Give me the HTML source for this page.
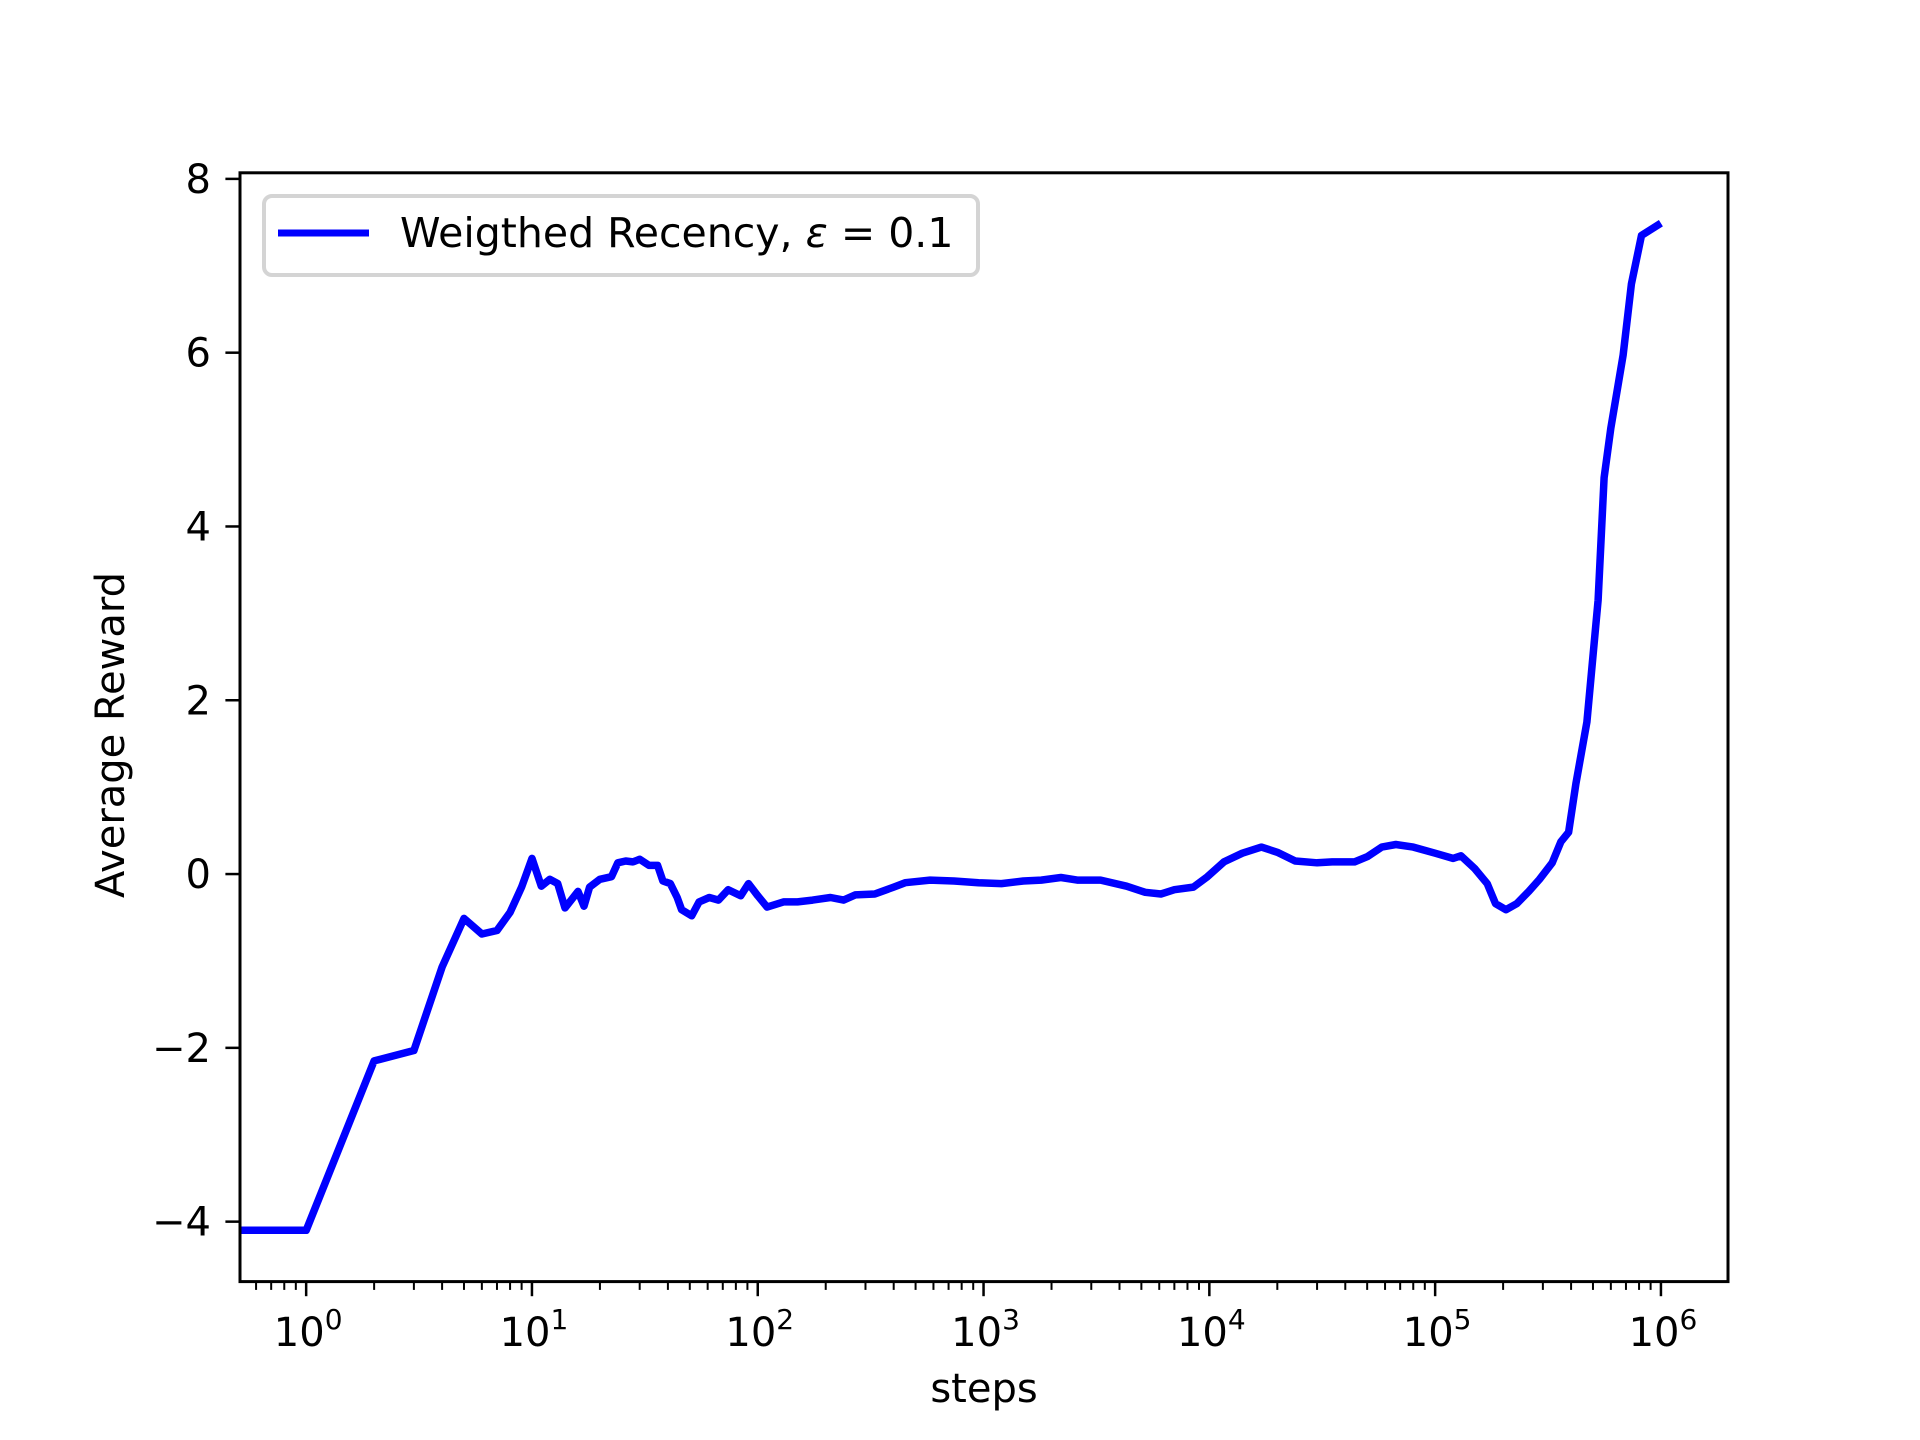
<!DOCTYPE html>
<html><head><meta charset="utf-8"><style>
html,body{margin:0;padding:0;background:#fff;}
svg{display:block;font-family:"DejaVu Sans","Liberation Sans",sans-serif;}
</style></head><body>
<svg id="chart" width="1920" height="1440" viewBox="0 0 1920 1440" xmlns="http://www.w3.org/2000/svg">
<rect width="1920" height="1440" fill="#fff"/>
<defs><clipPath id="clip"><rect x="240" y="172.8" width="1488" height="1108.8"/></clipPath></defs>
<g id="plot"></g>
<rect x="240" y="172.8" width="1488" height="1108.8" fill="none" stroke="#000" stroke-width="3"/>
<g id="legend">
<rect x="264" y="196" width="714" height="79" rx="8" fill="#fff" fill-opacity="0.8" stroke="#d4d4d4" stroke-width="4"/>
<line x1="278" y1="233" x2="369" y2="233" stroke="#0000ff" stroke-width="7"/>
<text x="400" y="247" font-size="41">Weigthed Recency, <tspan font-style="italic">ε</tspan> = 0.1</text>
</g>
<text x="984" y="1402" font-size="40" text-anchor="middle">steps</text>
<text transform="translate(124,735) rotate(-90)" font-size="40" text-anchor="middle">Average Reward</text>
</svg>
<script>
const steps=[0.51,1,2,3,4,5,6,7,8,9,10,11,12,13,14,16,17,18,20,22.5,24,26,28,30,33,36,38,41,44,46,51,55,61,67,74,84,91,100,110,130,150,175,210,240,270,330,400,450,580,740,950,1200,1500,1800,2200,2600,3300,4300,5200,6100,7000,8500,9800,11600,14000,17000,20000,24000,30000,35000,44000,50000,58000,67000,80000,100000,120000,130000,150000,170000,185000,206000,230000,260000,290000,330000,360000,390000,420000,470000,527000,560000,600000,680000,740000,820000,1000000];
const rewards=[-4.1,-4.1,-2.15,-2.03,-1.07,-0.51,-0.69,-0.65,-0.44,-0.15,0.18,-0.14,-0.06,-0.11,-0.39,-0.2,-0.37,-0.15,-0.06,-0.03,0.13,0.15,0.14,0.17,0.1,0.1,-0.08,-0.11,-0.27,-0.41,-0.48,-0.32,-0.27,-0.3,-0.18,-0.25,-0.11,-0.25,-0.38,-0.32,-0.32,-0.3,-0.27,-0.3,-0.24,-0.23,-0.15,-0.1,-0.07,-0.08,-0.1,-0.11,-0.08,-0.07,-0.04,-0.07,-0.07,-0.14,-0.21,-0.23,-0.18,-0.15,-0.03,0.14,0.24,0.31,0.25,0.15,0.13,0.14,0.14,0.2,0.31,0.34,0.31,0.24,0.18,0.21,0.06,-0.11,-0.34,-0.41,-0.34,-0.2,-0.06,0.13,0.37,0.48,1.04,1.75,3.15,4.56,5.13,5.97,6.79,7.35,7.49];
const yTicks=[-4,-2,0,2,4,6,8];
const xDecades=[0,1,2,3,4,5,6];

const NS="http://www.w3.org/2000/svg";
const L=240,R=1728,T=172.8,B=1281.6;
const xMin=-0.293,xMax=6.297,yMin=-4.69,yMax=8.07;
function xs(v){return L+(Math.log10(v)-xMin)/(xMax-xMin)*(R-L);}
function ys(v){return B-(v-yMin)/(yMax-yMin)*(B-T);}
const g=document.getElementById('plot');
function mk(tag,attrs){const e=document.createElementNS(NS,tag);for(const k in attrs)e.setAttribute(k,attrs[k]);g.appendChild(e);return e;}

yTicks.forEach(v=>{
  const y=ys(v);
  const t=mk('line',{x1:L-14.6,x2:L,y1:y,y2:y,stroke:'#000','stroke-width':2.5});
  
  
  const tx=mk('text',{x:L-29,y:y+14,'font-size':40,'text-anchor':'end'});
  
  
  tx.textContent=(v<0?'\u2212':'')+Math.abs(v);
});
xDecades.forEach(d=>{
  const x=xs(Math.pow(10,d));
  const t=mk('line',{x1:x,x2:x,y1:B,y2:B+14.6,stroke:'#000','stroke-width':2.5});
  
  
  const tx=mk('text',{x:x+2,y:1346,'font-size':40,'text-anchor':'middle'});
  
  
  tx.textContent='10';
  const sp=document.createElementNS(NS,'tspan');
  sp.setAttribute('dy','-17');sp.setAttribute('font-size','28');
  sp.textContent=String(d);tx.appendChild(sp);
});
for(let d=-1;d<=6;d++){for(let m=2;m<=9;m++){const v=m*Math.pow(10,d);const x=xs(v);if(x<L||x>R)continue;
  const t=mk('line',{x1:x,x2:x,y1:B,y2:B+8.3,stroke:'#000','stroke-width':2});
  
  
}}
const pts=steps.map((s,i)=>xs(s).toFixed(1)+','+ys(rewards[i]).toFixed(1)).join(' ');
const line=mk('polyline',{points:pts,fill:'none',stroke:'#0000ff','stroke-width':7.5,'stroke-linejoin':'round','clip-path':'url(#clip)'});


</script>
</body></html>
